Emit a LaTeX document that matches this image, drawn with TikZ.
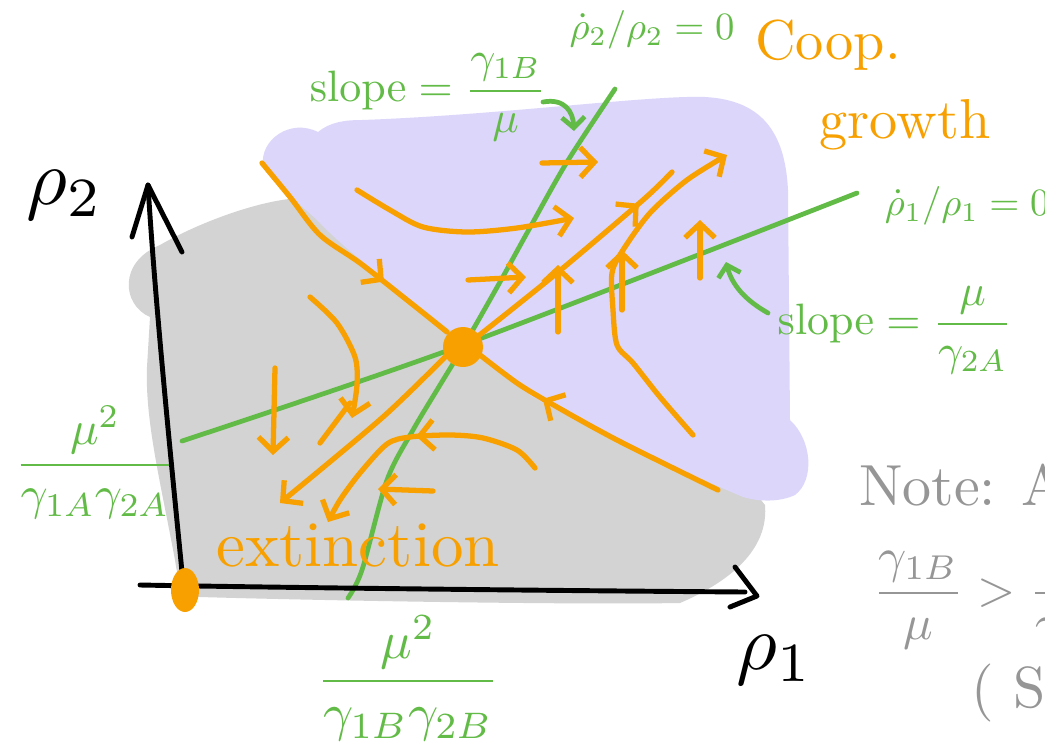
\documentclass[tikz,border=0pt]{standalone}
\usepackage{amsmath}
\usetikzlibrary{arrows.meta,decorations.markings,shapes.geometric}
\definecolor{org}{RGB}{247,160,0}
\definecolor{grn}{RGB}{98,187,70}
\definecolor{lav}{RGB}{220,214,250}
\definecolor{gry}{RGB}{211,211,211}
\definecolor{txtgray}{RGB}{150,150,150}
\tikzset{
  traj/.style={draw=org, line width=3pt, line cap=round, line join=round},
  endtip/.style={-{Straight Barb[length=8pt,width=17pt]}},
  midtip/.style={postaction={decorate}, decoration={markings, mark=at position #1 with {\arrow{Straight Barb[length=8pt,width=17pt]}}}},
  nullc/.style={draw=grn, line width=2.7pt, line cap=round, line join=round},
  gtip/.style={-{Straight Barb[length=6pt,width=13pt]}},
  axisline/.style={draw=black, line width=2.8pt, line cap=round, line join=round},
  glabel/.style={text=grn, inner sep=0pt},
  olabel/.style={text=org, inner sep=0pt},
  nlabel/.style={text=txtgray, inner sep=0pt},
}
\begin{document}
\begin{tikzpicture}[x=0.02cm,y=-0.02cm]
\fill[white] (0,0) rectangle (1045,751);
\useasboundingbox (0,0) rectangle (1045,751);
\clip (0,0) rectangle (1045,751);

% regions
\fill[gry] (150,317) .. controls (122,305) and (118,262) .. (160,245)
  .. controls (200,222) and (260,200) .. (300,198) -- (600,300) -- (765,505)
  .. controls (768,540) and (745,575) .. (680,603)
  .. controls (560,605) and (300,600) .. (200,597)
  .. controls (182,595) and (178,580) .. (175,560)
  .. controls (160,480) and (145,420) .. (147,367) -- cycle;
\fill[lav] (263,165) .. controls (260,140) and (290,118) .. (318,132)
  .. controls (330,122) and (345,120) .. (362,120)
  .. controls (500,115) and (650,95) .. (705,97)
  .. controls (760,100) and (785,130) .. (788,190) -- (790,420)
  .. controls (812,440) and (815,480) .. (795,495)
  .. controls (780,502) and (760,502) .. (743,497)
  .. controls (680,470) and (600,435) .. (533,397)
  .. controls (500,375) and (470,345) .. (450,330)
  .. controls (400,290) and (350,255) .. (317,220)
  .. controls (290,195) and (268,180) .. (263,165) -- cycle;

% nullclines
\draw[nullc] plot[smooth] coordinates {(182,441) (463,345) (857,193)};
\draw[nullc] plot[smooth] coordinates {(348,598) (362,570) (387,480) (413,430) (440,385) (463,347) (500,282) (527,233) (567,162) (615,89)};

% axes
\coordinate (ytip) at (148,185);
\coordinate (xtip) at (757,596);
\draw[axisline] (183,582) .. controls (170,450) and (155,300) .. (ytip);
\draw[axisline] (132,237) -- (ytip) -- (182,252);
\draw[axisline] (140,585) .. controls (300,588) and (600,591) .. (745,592);
\draw[axisline] (735,567) -- (xtip) -- (730,607);

% saddle and origin
\node[circle, fill=org, minimum size=0.8cm, inner sep=0pt] (saddle) at (463,347) {};
\node[ellipse, fill=org, minimum width=0.56cm, minimum height=0.88cm, inner sep=0pt] (origin) at (185,590) {};

% separatrices
\draw[traj, midtip=0.68] plot[smooth] coordinates {(262,163) (290,197) (320,235) (360,263) (407,300) (447,332)};
\draw[traj, midtip=0.72] plot[smooth] coordinates {(718,490) (617,440) (550,403) (517,383) (480,355)};
\draw[traj, midtip=0.82] plot[smooth] coordinates {(477,337) (557,273) (643,200) (672,172)};
\draw[traj, endtip] plot[smooth] coordinates {(450,352) (383,417) (280,503)};

% other trajectories
\draw[traj, endtip] plot[smooth] coordinates {(357,190) (390,210) (423,227) (467,232) (517,228) (574,218)};
\draw[traj, endtip] (542,163) -- (598,162);
\draw[traj, endtip] (468,280) -- (526,277);
\draw[traj, endtip] (558,332) -- (558,265);
\draw[traj, endtip] plot[smooth] coordinates {(693,435) (660,397) (633,363) (617,345) (613,310) (612,273) (623,250) (650,213) (687,180) (727,155)};
\draw[traj, endtip] (622,310) -- (622,250);
\draw[traj, endtip] (700,278) -- (700,220);
\draw[traj, endtip] plot[smooth] coordinates {(310,297) (337,323) (355,357) (357,385) (352,418)};
\draw[traj] (350,403) -- (320,443);
\draw[traj, endtip] (275,368) -- (273,455);
\draw[traj, midtip=0.5, endtip] plot[smooth] coordinates {(535,468) (517,450) (483,438) (450,435) (410,437) (387,444) (360,473) (340,500) (328,522)};
\draw[traj, endtip] (433,491) -- (378,489);

% green pointers
\coordinate (p1s) at (543,102);
\coordinate (p1e) at (574,131);
\draw[nullc, gtip] (p1s) .. controls (565,98) and (573,112) .. (p1e);
\coordinate (p2s) at (768,313);
\coordinate (p2e) at (726,262);
\draw[nullc, gtip] (p2s) .. controls (745,300) and (732,285) .. (p2e);

% labels
\node[glabel, scale=2.2] (n2) at (652,30) {$\dot\rho_2/\rho_2=0$};
\node[glabel, scale=2.2, anchor=west] (n1) at (884,206) {$\dot\rho_1/\rho_1=0$};
\node[glabel, scale=2.5] (s1) at (428,97) {$\mathrm{slope}=\dfrac{\gamma_{1B}}{\mu}$};
\node[glabel, scale=2.5] (s2) at (895,330) {$\mathrm{slope}=\dfrac{\mu}{\gamma_{2A}}$};
\node[glabel, scale=2.7] (i2) at (95,462) {$\dfrac{\mu^2}{\gamma_{1A}\gamma_{2A}}$};
\node[glabel, scale=3] (i1) at (408,678) {$\dfrac{\mu^2}{\gamma_{1B}\gamma_{2B}}$};

\node[olabel, scale=3.7] (ext) at (358,545) {extinction};
\node[olabel, scale=3.2] (coop) at (828,45) {Coop.};
\node[olabel, scale=3.2] (grow) at (905,125) {growth};

\node[scale=4.5] (r2) at (65,195) {$\rho_2$};
\node[scale=4.5] (r1) at (775,660) {$\rho_1$};

\node[nlabel, scale=3.3, anchor=base west] (note) at (858,505) {Note: A};
\node[nlabel, scale=2.8, anchor=west] (ineq) at (872,600) {$\dfrac{\gamma_{1B}}{\mu} > \dfrac{\mu}{\gamma_{2A}}$};
\node[nlabel, scale=3.3, anchor=west] (paren) at (970,693) {( S};
\end{tikzpicture}
\end{document}
